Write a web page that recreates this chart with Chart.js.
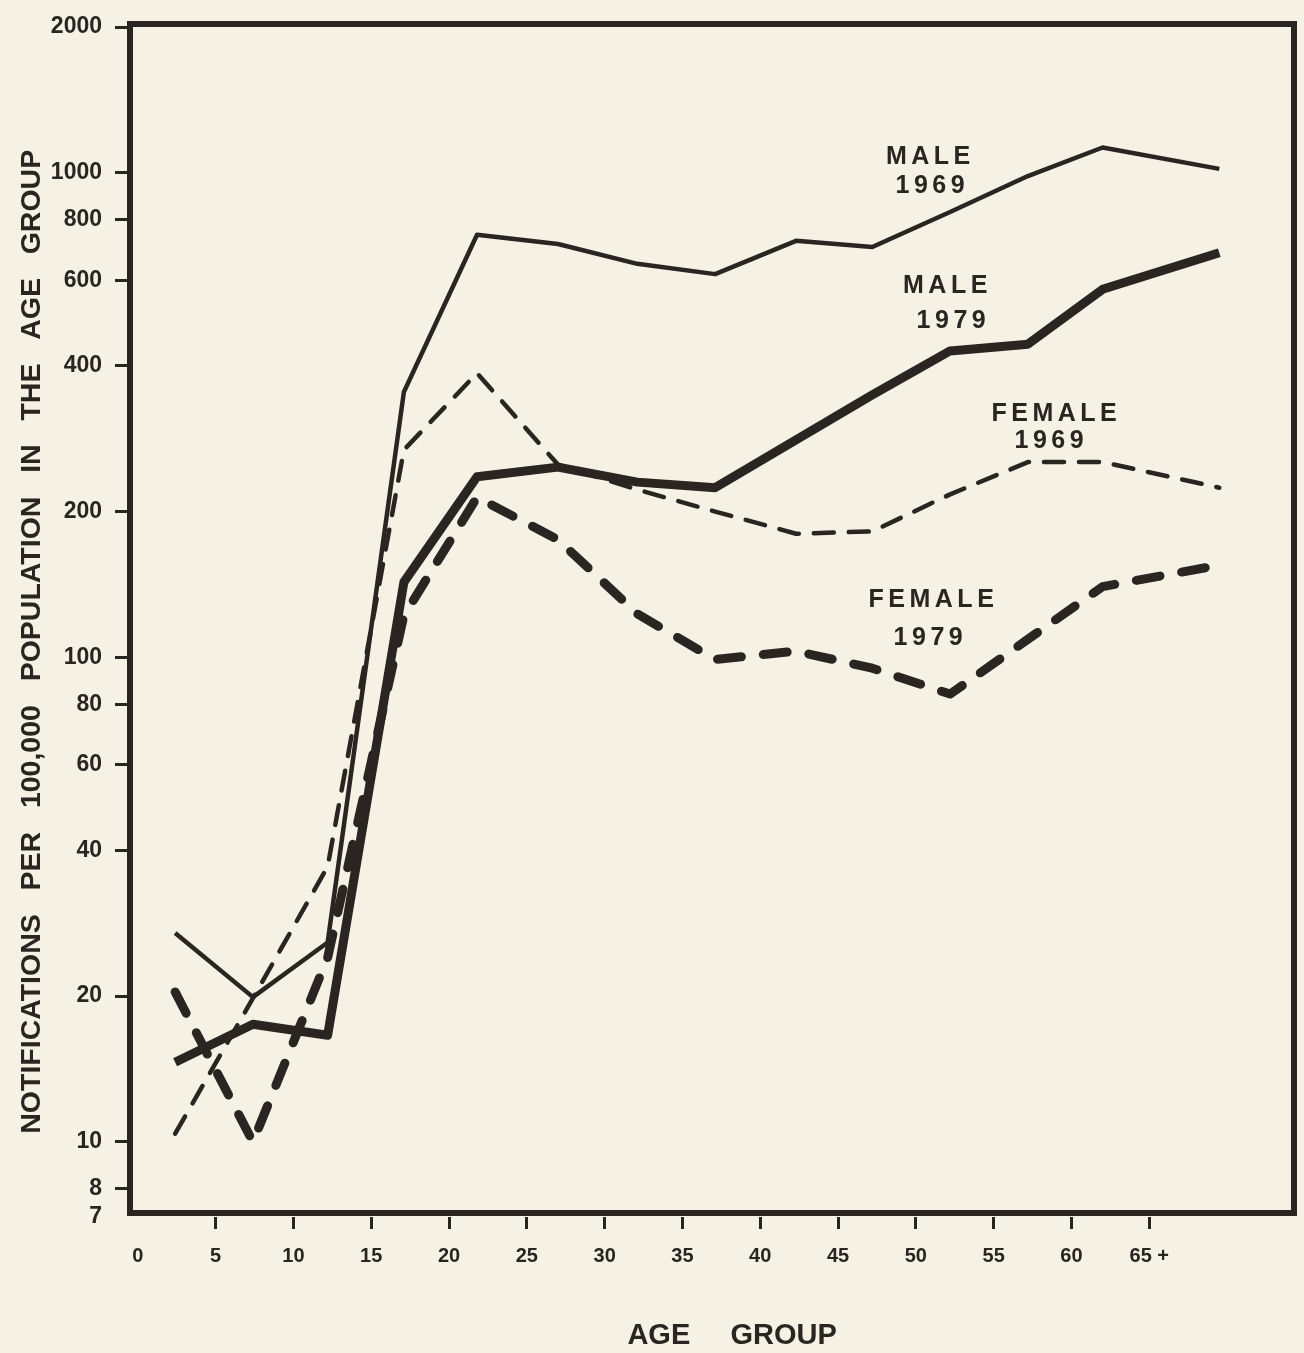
<!DOCTYPE html>
<html>
<head>
<meta charset="utf-8">
<script src="https://cdn.jsdelivr.net/npm/chart.js@4.4.1/dist/chart.umd.min.js"></script>
<style>
  html, body { margin: 0; padding: 0; background: #f5f1e4; }
  #wrap { width: 1304px; height: 1353px; }
</style>
</head>
<body>
<div id="wrap"><canvas id="notifChart" width="1304" height="1353"></canvas></div>
<script>
// age groups and where each one is plotted on the age axis
const ageGroups = ['0-4','5-9','10-14','15-19','20-24','25-29','30-34','35-39','40-44','45-49','50-54','55-59','60-64','65+'];
const agePos = [2.4, 7.4, 12.2, 17.1, 21.8, 27.0, 32.1, 37.1, 42.3, 47.2, 52.2, 57.2, 62.0, 69.5];

// notifications per 100,000 population in the age group
const male1969   = [27.0, 19.9, 25.8, 353, 745, 713, 649, 618, 724, 703, 830, 985, 1128, 1019];
const male1979   = [14.6, 17.5, 16.6, 143, 236, 247, 230, 224, 281, 348, 429, 443, 575, 684];
const female1969 = [10.4, 19.8, 37.0, 268, 386, 250, 222, 200, 180, 182, 217, 253, 253, 224];
const female1979 = [20.4, 10.0, 24.0, 122, 214, 175, 123, 99, 103, 95, 84, 109, 140, 155];

const xTicks = [0, 5, 10, 15, 20, 25, 30, 35, 40, 45, 50, 55, 60, 65];
const xTickLabels = ['0','5','10','15','20','25','30','35','40','45','50','55','60','65 +'];
const yTicks = [7, 8, 10, 20, 40, 60, 80, 100, 200, 400, 600, 800, 1000, 2000];

const ink = '#2a2521';
const paper = '#f5f1e4';
const fontFam = '"Liberation Sans", Arial, sans-serif';

const toPoints = vals => vals.map((v, i) => ({ x: agePos[i], y: v }));

// line labels written on the chart
const lineLabels = [
  { lines: ['MALE', '1969'],   age: 50.8, value: 1079, dx: 2,  dy: 29 },
  { lines: ['MALE', '1979'],   age: 51.9, value: 585,  dx: 6,  dy: 35 },
  { lines: ['FEMALE', '1969'], age: 58.9, value: 318,  dx: -5, dy: 27 },
  { lines: ['FEMALE', '1979'], age: 51.0, value: 131,  dx: -3, dy: 38 }
];

const paperPlugin = {
  id: 'paper',
  beforeDraw(chart) {
    const c = chart.ctx;
    c.save();
    c.fillStyle = paper;
    c.fillRect(0, 0, chart.width, chart.height);
    c.restore();
  }
};

const framePlugin = {
  id: 'frame',
  afterDatasetsDraw(chart) {
    const c = chart.ctx, a = chart.chartArea;
    c.save();
    c.strokeStyle = ink;
    c.lineWidth = 6;
    c.lineJoin = 'miter';
    c.strokeRect(a.left, a.top - 3, a.right - a.left, a.bottom - a.top - 1);
    c.restore();
  }
};

const labelPlugin = {
  id: 'lineLabels',
  afterDraw(chart) {
    const c = chart.ctx, xs = chart.scales.x, ys = chart.scales.y;
    c.save();
    c.fillStyle = ink;
    c.font = 'bold 25px ' + fontFam;
    c.textAlign = 'center';
    c.textBaseline = 'middle';
    c.letterSpacing = '4.5px';
    lineLabels.forEach(l => {
      const px = xs.getPixelForValue(l.age), py = ys.getPixelForValue(l.value);
      c.fillText(l.lines[0], px + 2, py);
      c.fillText(l.lines[1], px + l.dx + 2, py + l.dy);
    });
    c.restore();
  }
};

const ctx = document.getElementById('notifChart').getContext('2d');

const data = {
  datasets: [
    { label: 'Male 1969', data: toPoints(male1969), borderWidth: 4.5 },
    { label: 'Male 1979', data: toPoints(male1979), borderWidth: 9 },
    { label: 'Female 1969', data: toPoints(female1969), borderWidth: 4.5, borderDash: [20, 15], borderCapStyle: 'round' },
    { label: 'Female 1979', data: toPoints(female1979), borderWidth: 9, borderDash: [24, 22], borderCapStyle: 'round' }
  ]
};

const config = {
  type: 'line',
  data: data,
  options: {
    responsive: false,
    animation: false,
    layout: { padding: { top: 27, right: 10, bottom: 0, left: 0 } },
    elements: {
      line: { borderColor: ink, tension: 0, fill: false, borderJoinStyle: 'round' },
      point: { radius: 0, hoverRadius: 0 }
    },
    plugins: {
      legend: { display: false },
      tooltip: { enabled: false }
    },
    scales: {
      x: {
        type: 'linear',
        min: -0.5,
        max: 74.3,
        afterBuildTicks: s => { s.ticks = xTicks.map(v => ({ value: v })); },
        afterFit: s => { s.height = 136; },
        border: { display: false },
        grid: {
          drawOnChartArea: false,
          drawTicks: true,
          tickLength: 12,
          tickWidth: 3,
          tickColor: c => (c.tick && c.tick.value === 0) ? 'rgba(0,0,0,0)' : ink
        },
        ticks: {
          autoSkip: false,
          maxRotation: 0,
          padding: 15,
          color: ink,
          font: { family: fontFam, size: 20, weight: 'bold' },
          callback: (v, i) => xTickLabels[i]
        },
        title: {
          display: true,
          text: '     AGE     GROUP',
          color: ink,
          padding: { top: 0, bottom: 0 },
          font: { family: fontFam, size: 29, weight: 'bold' }
        }
      },
      y: {
        type: 'logarithmic',
        min: 7,
        max: 2000,
        afterBuildTicks: s => { s.ticks = yTicks.map(v => ({ value: v })); },
        afterFit: s => { s.width = 130; },
        border: { display: false },
        grid: {
          drawOnChartArea: false,
          drawTicks: true,
          tickLength: 15,
          tickWidth: 3,
          tickColor: c => (c.tick && c.tick.value === 7) ? 'rgba(0,0,0,0)' : ink
        },
        ticks: {
          autoSkip: false,
          padding: 13,
          color: ink,
          font: { family: fontFam, size: 23, weight: 'bold' },
          callback: v => String(v)
        },
        title: {
          display: true,
          text: 'NOTIFICATIONS   PER   100,000   POPULATION   IN   THE   AGE   GROUP     ',
          color: ink,
          padding: { top: 15, bottom: 0 },
          font: { family: fontFam, size: 28.5, weight: 'bold' }
        }
      }
    }
  },
  plugins: [paperPlugin, framePlugin, labelPlugin]
};

const notifChart = new Chart(ctx, config);
</script>
</body>
</html>
